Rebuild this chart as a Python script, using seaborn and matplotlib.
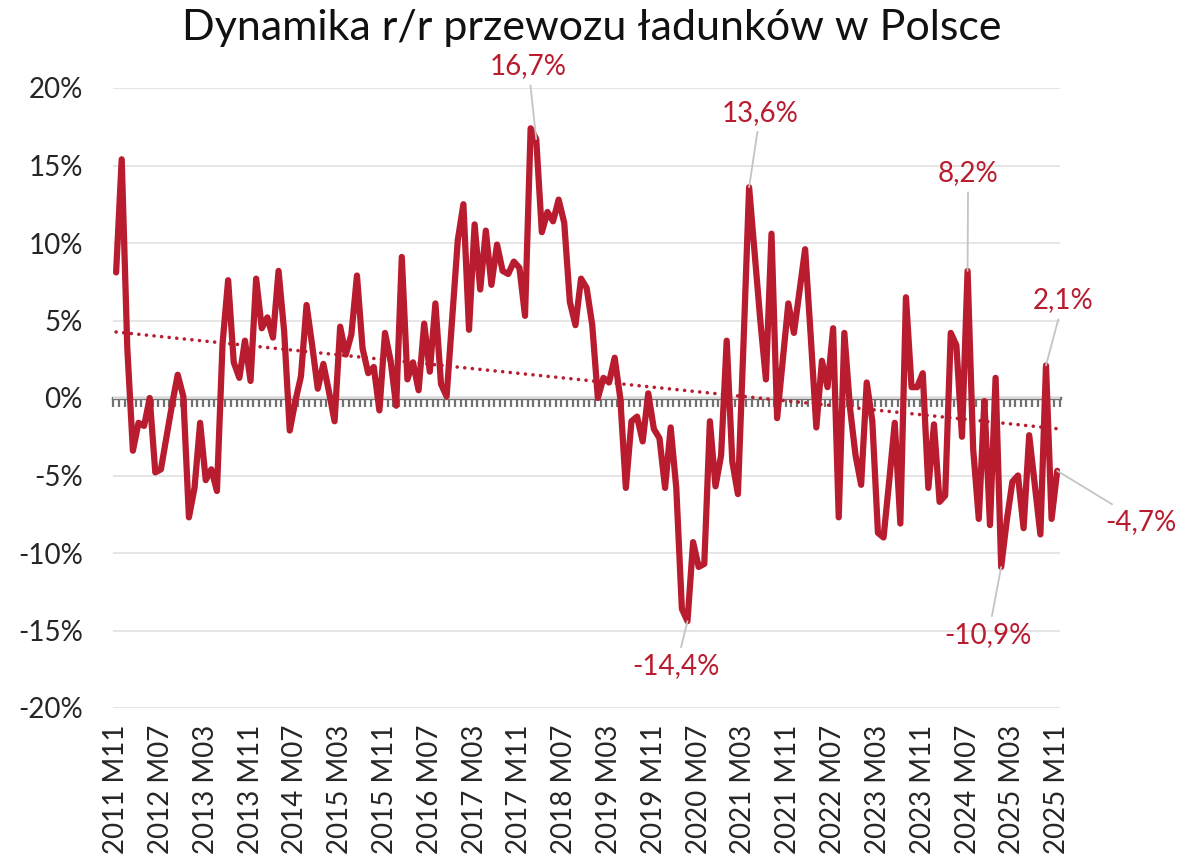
import numpy as np
import pandas as pd
import matplotlib
matplotlib.use("Agg")
import matplotlib.pyplot as plt
import seaborn as sns

# monthly y/y change of freight transport in Poland, 2011 M11 .. 2025 M11 (%)
values = [
    8.1, 15.4, 3.2, -3.4, -1.6, -1.8, 0.0, -4.8, -4.6, -2.5,
    -0.4, 1.5, 0.1, -7.7, -5.8, -1.6, -5.3, -4.6, -6.0, 3.5,
    7.6, 2.3, 1.3, 3.7, 1.1, 7.7, 4.5, 5.2, 3.9, 8.2,
    4.3, -2.1, -0.2, 1.4, 6.0, 3.4, 0.6, 2.2, 0.4, -1.5,
    4.6, 2.8, 4.1, 7.9, 3.2, 1.6, 2.0, -0.8, 4.2, 2.4,
    -0.5, 9.1, 1.2, 2.3, 0.5, 4.8, 1.7, 6.1, 0.9, 0.1,
    5.2, 10.2, 12.5, 4.4, 11.2, 7.0, 10.8, 7.3, 9.9, 8.2,
    8.0, 8.8, 8.4, 5.3, 17.4, 16.7, 10.7, 12.0, 11.4, 12.8,
    11.3, 6.2, 4.7, 7.7, 7.1, 4.7, 0.0, 1.3, 1.0, 2.6,
    0.0, -5.8, -1.5, -1.2, -2.8, 0.3, -2.0, -2.6, -5.8, -1.9,
    -5.8, -13.6, -14.4, -9.3, -10.9, -10.7, -1.5, -5.7, -3.7, 3.7,
    -4.1, -6.2, 3.5, 13.6, 9.3, 5.0, 1.2, 10.6, -1.3, 2.4,
    6.1, 4.2, 6.9, 9.6, 4.0, -1.9, 2.4, 0.7, 4.5, -7.7,
    4.2, -0.6, -3.7, -5.6, 1.0, -1.5, -8.7, -9.0, -5.4, -1.6,
    -8.1, 6.5, 0.7, 0.7, 1.6, -5.8, -1.7, -6.7, -6.3, 4.2,
    3.4, -2.5, 8.2, -3.3, -7.8, -0.2, -8.2, 1.3, -10.9, -7.9,
    -5.4, -5.0, -8.4, -2.4, -5.6, -8.8, 2.1, -7.8, -4.7,
]

tick_labels = [
    "2011 M11", "2012 M07", "2013 M03", "2013 M11", "2014 M07", "2015 M03",
    "2015 M11", "2016 M07", "2017 M03", "2017 M11", "2018 M07", "2019 M03",
    "2019 M11", "2020 M07", "2021 M03", "2021 M11", "2022 M07", "2023 M03",
    "2023 M11", "2024 M07", "2025 M03", "2025 M11",
]

# labelled points: month index and label position (index, %)
label_idx = [75, 113, 152, 166, 168, 158, 102]
label_pos_x = [73.6, 115.0, 152.1, 169.1, 183.0, 155.7, 100.0]
label_pos_y = [21.4, 18.4, 14.5, 6.3, -8.0, -15.3, -17.3]

RED = "#b81c2e"
GREY_AXIS = "#6f7173"

sns.set_style("white")
plt.rcParams["font.family"] = ["Lato", "DejaVu Sans"]

df = pd.DataFrame({"idx": np.arange(len(values)), "value": values})

fig = plt.figure(figsize=(12.01, 8.6), dpi=100)
ax = fig.add_axes([113.3 / 1201, 1 - 708 / 860, 946.7 / 1201, 620 / 860])

sns.lineplot(data=df, x="idx", y="value", ax=ax, color=RED, linewidth=4.5,
             solid_joinstyle="round", solid_capstyle="round", zorder=4)

# linear trend
sns.regplot(data=df, x="idx", y="value", ax=ax, scatter=False, ci=None,
            truncate=True,
            line_kws=dict(color=RED, linewidth=2.6, linestyle=(0, (0.01, 2.1)),
                          dash_capstyle="round", zorder=3))

ax.set_xlim(-0.5, len(values) - 0.5)
ax.set_ylim(-20, 20)
ax.set_yticks(np.arange(-20, 21, 5))
ax.set_yticklabels([f"{v}%" for v in range(-20, 21, 5)])
ax.set_xticks(np.arange(0, len(values), 8))
ax.set_xticklabels(tick_labels, rotation=90, va="top", ha="center")
ax.tick_params(axis="both", length=0, labelsize=20)
ax.tick_params(axis="y", pad=22)
ax.tick_params(axis="x", pad=12)
ax.set_xlabel("")
ax.set_ylabel("")
ax.yaxis.grid(True, color="#e3e3e3", linewidth=1.3)
ax.set_axisbelow(True)
for s in ax.spines.values():
    s.set_visible(False)

# zero axis with monthly tick marks
sec = ax.secondary_xaxis(0.5)
sec.set_alignment("bottom")
sec.set_xticks(np.arange(-0.5, len(values), 1))
sec.tick_params(axis="x", direction="out", length=6.5, width=1.6,
                color=GREY_AXIS, labelbottom=False, labeltop=False)
sec.spines["bottom"].set_color(GREY_AXIS)
sec.spines["bottom"].set_linewidth(2.4)

for i, tx, ty in zip(label_idx, label_pos_x, label_pos_y):
    txt = f"{values[i]:.1f}".replace(".", ",") + "%"
    ax.annotate(txt, xy=(i, values[i]), xytext=(tx, ty), textcoords="data",
                ha="center", va="center", fontsize=20, color=RED,
                arrowprops=dict(arrowstyle="-", color="#c4c4c4", lw=1.3,
                                shrinkA=2, shrinkB=0),
                annotation_clip=False, zorder=5)

fig.text(0.4925, 1 - 40 / 860, "Dynamika r/r przewozu ładunków w Polsce",
         ha="center", va="baseline", fontsize=31, color="#111111")

fig.savefig("out.png", dpi=100, facecolor="white")
